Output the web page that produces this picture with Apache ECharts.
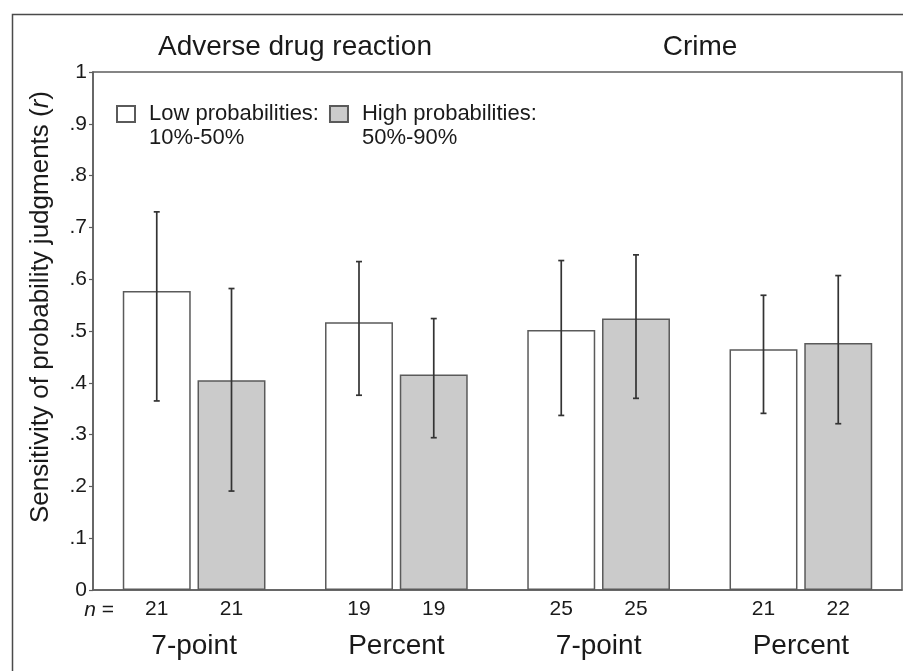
<!DOCTYPE html>
<html>
<head>
<meta charset="utf-8">
<script src="https://cdn.jsdelivr.net/npm/echarts@6/dist/echarts.min.js"></script>
<style>
  html, body { margin: 0; padding: 0; background: #fff; }
  #chart { width: 903px; height: 671px; }
</style>
</head>
<body>
<div id="chart"></div>
<script>
// Response formats within each scenario
const categories = ['7-point', 'Percent', '7-point', 'Percent'];

// Low probabilities (10%-50%): mean r and error-bar limits
const lowMean = [0.577, 0.517, 0.502, 0.465];
const lowLo   = [0.365, 0.376, 0.337, 0.341];
const lowHi   = [0.730, 0.634, 0.636, 0.569];
const lowN    = [21, 19, 25, 21];

// High probabilities (50%-90%)
const highMean = [0.405, 0.416, 0.524, 0.477];
const highLo   = [0.191, 0.294, 0.370, 0.321];
const highHi   = [0.582, 0.524, 0.647, 0.607];
const highN    = [21, 19, 25, 22];

const lowName = 'Low probabilities:\n10%-50%';
const highName = 'High probabilities:\n50%-90%';

const FONT = '"Liberation Sans", Arial, Helvetica, sans-serif';
const BAR_WIDTH_FRAC = 0.336;   // bar width as share of the category band
const BAR_GAP_FRAC = 0.10;      // gap between paired bars as share of bar width

const chart = echarts.init(document.getElementById('chart'), null, { renderer: 'canvas' });

// Error bar drawn at the bar's own slot: side = -1 (left bar) or +1 (right bar)
function errorBar(side) {
  return function (params, api) {
    const cat = api.value(0);
    const band = api.size([1, 0])[0];
    const bw = band * BAR_WIDTH_FRAC;
    const off = side * (bw + bw * BAR_GAP_FRAC) / 2;
    const hi = api.coord([cat, api.value(3)]);
    const lo = api.coord([cat, api.value(2)]);
    const x = hi[0] + off;
    const cap = 3;
    const style = { stroke: '#333333', lineWidth: 1.7 };
    return {
      type: 'group',
      children: [
        { type: 'line', shape: { x1: x, y1: hi[1], x2: x, y2: lo[1] }, style },
        { type: 'line', shape: { x1: x - cap, y1: hi[1], x2: x + cap, y2: hi[1] }, style },
        { type: 'line', shape: { x1: x - cap, y1: lo[1], x2: x + cap, y2: lo[1] }, style }
      ]
    };
  };
}

const nLabel = (arr) => ({
  show: true,
  position: 'bottom',
  distance: 9,
  formatter: (p) => String(arr[p.dataIndex]),
  fontFamily: FONT,
  fontSize: 21,
  color: '#1a1a1a'
});

const option = {
  backgroundColor: '#ffffff',
  animation: false,
  textStyle: { fontFamily: FONT },
  grid: {
    left: 93, right: 1, top: 72, bottom: 81,
    show: true, borderColor: '#5e5e5e', borderWidth: 1.5, backgroundColor: 'transparent'
  },
  legend: {
    left: 116, top: 78,
    padding: 0,
    orient: 'horizontal',
    itemWidth: 18, itemHeight: 16, itemGap: 10,
    icon: 'rect',
    selectedMode: false,
    data: [lowName, highName],
    // leading blank line keeps the swatch level with the first text line
    formatter: (name) => '\n' + name,
    textStyle: {
      fontFamily: FONT, fontSize: 22, lineHeight: 24, color: '#1a1a1a',
      padding: [0, 0, 0, 9]
    }
  },
  xAxis: {
    type: 'category',
    data: categories,
    axisLine: { lineStyle: { color: '#5e5e5e', width: 1.5 } },
    axisTick: { show: false },
    axisLabel: { fontFamily: FONT, fontSize: 28, color: '#1a1a1a', margin: 42 }
  },
  yAxis: {
    type: 'value',
    min: 0, max: 1, interval: 0.1,
    splitLine: { show: false },
    axisLine: { show: true, lineStyle: { color: '#5e5e5e', width: 1.5 } },
    axisTick: { show: true, length: 4, lineStyle: { color: '#5e5e5e', width: 1.2 } },
    axisLabel: {
      fontFamily: FONT, fontSize: 21, color: '#1a1a1a', margin: 6,
      formatter: (v) => {
        if (v === 0) return '0';
        if (Math.abs(v - 1) < 1e-9) return '1';
        return '.' + Math.round(v * 10);
      }
    }
  },
  graphic: [
    {
      type: 'rect', left: 10, top: 12, silent: true,
      shape: { x: 0, y: 0, width: 1000, height: 1000 },
      style: { fill: 'none', stroke: '#4a4a4a', lineWidth: 1.5 }
    },
    {
      type: 'text', x: 295, y: 47,
      style: { text: 'Adverse drug reaction', font: '28px ' + FONT, fill: '#1a1a1a', align: 'center', verticalAlign: 'middle' }
    },
    {
      type: 'text', x: 700, y: 47,
      style: { text: 'Crime', font: '28px ' + FONT, fill: '#1a1a1a', align: 'center', verticalAlign: 'middle' }
    },
    {
      type: 'text', x: 41, y: 307, rotation: Math.PI / 2,
      style: {
        text: 'Sensitivity of probability judgments ({i|r})',
        font: '26px ' + FONT, fill: '#1a1a1a', align: 'center', verticalAlign: 'middle',
        rich: { i: { fontStyle: 'italic', fontSize: 26, fontFamily: FONT, fill: '#1a1a1a' } }
      }
    },
    {
      type: 'text', x: 114, y: 610,
      style: {
        text: '{i|n} =', font: '21px ' + FONT, fill: '#1a1a1a', align: 'right', verticalAlign: 'middle',
        rich: { i: { fontStyle: 'italic', fontSize: 21, fontFamily: FONT, fill: '#1a1a1a' } }
      }
    }
  ],
  series: [
    {
      name: lowName, type: 'bar',
      data: lowMean,
      barWidth: (BAR_WIDTH_FRAC * 100) + '%',
      barGap: (BAR_GAP_FRAC * 100) + '%',
      itemStyle: { color: '#ffffff', borderColor: '#5a5a5a', borderWidth: 1.5 },
      label: nLabel(lowN)
    },
    {
      name: highName, type: 'bar',
      data: highMean,
      barWidth: (BAR_WIDTH_FRAC * 100) + '%',
      barGap: (BAR_GAP_FRAC * 100) + '%',
      itemStyle: { color: '#cbcbcb', borderColor: '#5a5a5a', borderWidth: 1.5 },
      label: nLabel(highN)
    },
    {
      type: 'custom', name: 'lowErr', z: 5,
      renderItem: errorBar(-1),
      data: categories.map((c, i) => [i, lowMean[i], lowLo[i], lowHi[i]]),
      encode: { x: 0, y: [2, 3] }
    },
    {
      type: 'custom', name: 'highErr', z: 5,
      renderItem: errorBar(1),
      data: categories.map((c, i) => [i, highMean[i], highLo[i], highHi[i]]),
      encode: { x: 0, y: [2, 3] }
    }
  ]
};

chart.setOption(option);
</script>
</body>
</html>
